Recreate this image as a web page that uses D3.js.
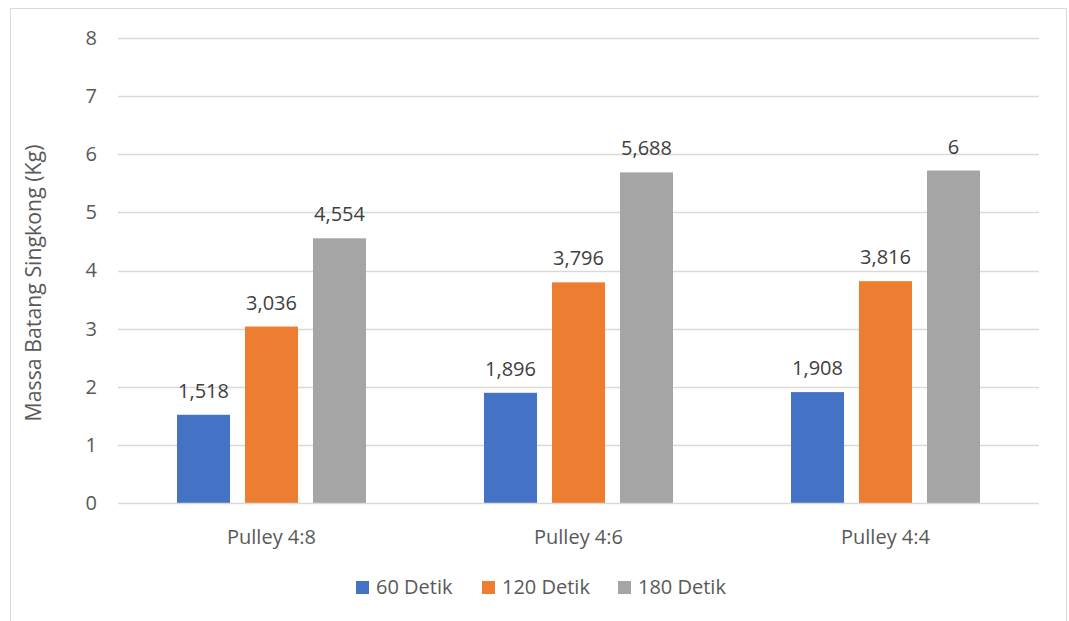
<!DOCTYPE html>
<html>
<head>
<meta charset="utf-8">
<script src="https://cdn.jsdelivr.net/npm/d3@7"></script>
<style>
  html, body { margin: 0; padding: 0; background: #fff; }
  svg { display: block; }
</style>
</head>
<body>
<svg id="chart" width="1069" height="621"></svg>
<script>
// Data
const categories = ["Pulley 4:8", "Pulley 4:6", "Pulley 4:4"];
const seriesNames = ["60 Detik", "120 Detik", "180 Detik"];
const values60 = [1.518, 1.896, 1.908];
const values120 = [3.036, 3.796, 3.816];
const values180 = [4.554, 5.688, 5.72];
// decimals shown in each point's data label
const labelDigits60 = [3, 3, 3];
const labelDigits120 = [3, 3, 3];
const labelDigits180 = [3, 3, 0];
const yTicks = [0, 1, 2, 3, 4, 5, 6, 7, 8];
const colors = ["#4472C4", "#ED7D31", "#A5A5A5"];

const seriesValues = [values60, values120, values180];
const seriesDigits = [labelDigits60, labelDigits120, labelDigits180];

// Indonesian number formatting (comma as decimal separator)
const idLocale = d3.formatLocale({ decimal: ",", thousands: ".", grouping: [3], currency: ["Rp", ""] });

const svg = d3.select("#chart");
const font = "'Open Sans', 'Segoe UI', sans-serif";
const textColor = "#595959";
const fontSize = 20;

// chart frame
svg.append("rect")
  .attr("x", 10.5).attr("y", 8.5)
  .attr("width", 1056).attr("height", 630)
  .attr("fill", "#fff").attr("stroke", "#d9d9d9").attr("stroke-width", 1);

const plot = { left: 118, right: 1039, top: 38, bottom: 503 };

const y = d3.scaleLinear().domain([0, 8]).range([plot.bottom, plot.top]);
const x0 = d3.scaleBand().domain(categories).range([plot.left, plot.right]).paddingInner(0).paddingOuter(0);
const x1 = d3.scaleBand().domain(seriesNames)
  .range([x0.bandwidth() / 2 - 94.5, x0.bandwidth() / 2 + 94.5])
  .paddingInner(0.22).paddingOuter(0);

// gridlines
svg.append("g").selectAll("line").data(yTicks.filter(t => t > 0)).join("line")
  .attr("x1", plot.left).attr("x2", plot.right)
  .attr("y1", d => Math.round(y(d)) + 0.5).attr("y2", d => Math.round(y(d)) + 0.5)
  .attr("stroke", "#d9d9d9").attr("stroke-width", 1.5);

// y axis tick labels
const yAxis = d3.axisLeft(y).tickValues(yTicks).tickSize(0).tickPadding(0).tickFormat(d3.format("d"));
const yG = svg.append("g").attr("transform", `translate(${plot.left - 21},0)`).call(yAxis);
yG.select(".domain").remove();
yG.selectAll("text").attr("font-family", font).attr("font-size", fontSize).attr("fill", textColor);

// y axis title
svg.append("text")
  .attr("transform", `translate(35,283) rotate(-90)`)
  .attr("text-anchor", "middle").attr("dominant-baseline", "middle")
  .attr("font-family", font).attr("font-size", 21.3).attr("fill", textColor)
  .text("Massa Batang Singkong (Kg)");

// bars
const groups = svg.append("g").selectAll("g").data(categories).join("g")
  .attr("transform", d => `translate(${x0(d)},0)`);

groups.each(function (cat, ci) {
  const g = d3.select(this);
  seriesNames.forEach((s, si) => {
    const v = seriesValues[si][ci];
    g.append("rect")
      .attr("x", x1(s)).attr("width", x1.bandwidth())
      .attr("y", y(v)).attr("height", y(0) - y(v))
      .attr("fill", colors[si]);
    g.append("text")
      .attr("x", x1(s) + x1.bandwidth() / 2).attr("y", y(v) - 17)
      .attr("text-anchor", "middle")
      .attr("font-family", font).attr("font-size", fontSize).attr("fill", "#404040")
      .text(idLocale.format(`.${seriesDigits[si][ci]}f`)(v));
  });
});

// baseline
svg.append("line")
  .attr("x1", plot.left).attr("x2", plot.right)
  .attr("y1", plot.bottom + 0.5).attr("y2", plot.bottom + 0.5)
  .attr("stroke", "#d9d9d9").attr("stroke-width", 1.5);

// category axis
const xAxis = d3.axisBottom(x0).tickSize(0).tickPadding(0);
const xG = svg.append("g").attr("transform", `translate(0,${plot.bottom + 34})`).call(xAxis);
xG.select(".domain").remove();
xG.selectAll("text").attr("font-family", font).attr("font-size", fontSize).attr("fill", textColor)
  .attr("dy", "0.35em").attr("y", 0);

// legend
const legendX = [356, 482, 618];
const legend = svg.append("g").selectAll("g").data(seriesNames).join("g")
  .attr("transform", (d, i) => `translate(${legendX[i]},587)`);
legend.append("rect").attr("x", 0).attr("y", -6).attr("width", 13).attr("height", 13)
  .attr("fill", (d, i) => colors[i]);
legend.append("text").attr("x", 20).attr("y", 0).attr("dy", "0.35em")
  .attr("font-family", font).attr("font-size", fontSize).attr("fill", textColor)
  .text(d => d);
</script>
</body>
</html>
